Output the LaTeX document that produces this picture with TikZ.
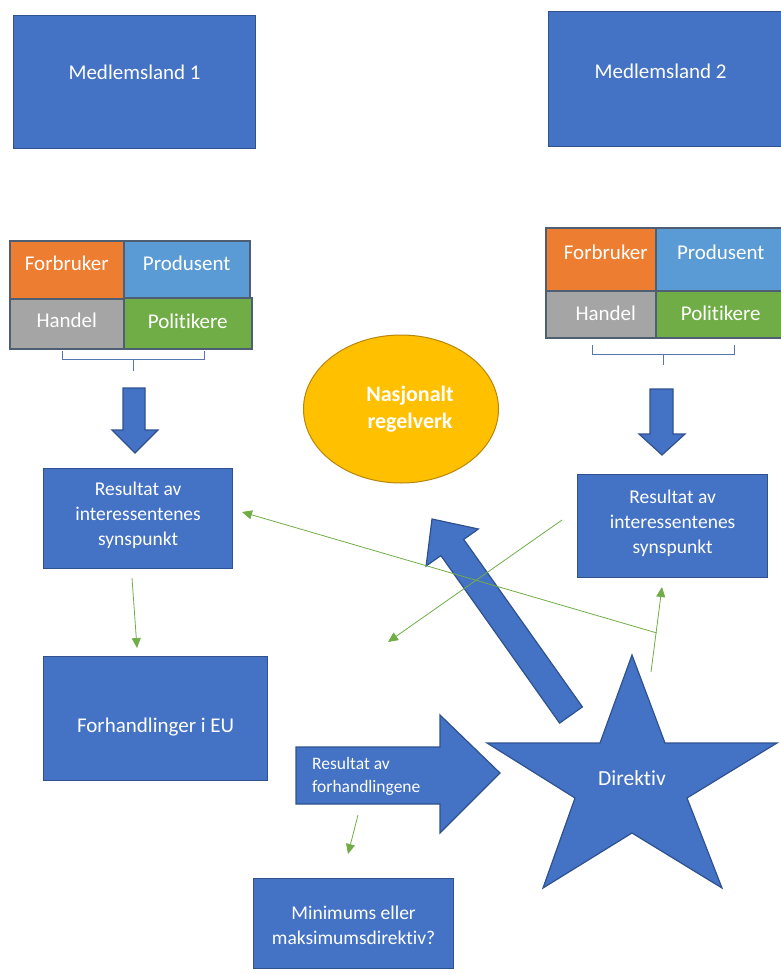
\documentclass[tikz,border=0pt]{standalone}
\usepackage{fontspec}
\setmainfont{Carlito}[Ligatures={NoCommon}]
\usetikzlibrary{shapes.geometric,arrows.meta,calc}
\definecolor{blu}{HTML}{4472C4}
\definecolor{bluedge}{HTML}{2F528F}
\definecolor{org}{HTML}{ED7D31}
\definecolor{lblu}{HTML}{5B9BD5}
\definecolor{gry}{HTML}{A5A5A5}
\definecolor{grn}{HTML}{70AD47}
\definecolor{gold}{HTML}{FFC000}
\definecolor{goldedge}{HTML}{B8860B}
\definecolor{celledge}{HTML}{4F5F73}
\begin{document}
\begin{tikzpicture}[x=1pt,y=-1pt,
  box/.style={draw=bluedge, line width=1.2pt, fill=blu, inner sep=0pt, anchor=north west},
  lab/.style={text=white, align=center, inner sep=0pt},
  big/.style={font=\fontsize{21}{25}\selectfont},
  mid/.style={font=\fontsize{19.5}{25}\selectfont},
  cell/.style={draw=celledge, line width=1.5pt, inner sep=0pt, anchor=north west},
  shapeblue/.style={draw=bluedge, line width=1.2pt, fill=blu},
  brace/.style={draw=blu!70!gray, line width=0.8pt},
  garrow/.style={draw=grn, line width=0.8pt, -{Triangle[length=10pt,width=9pt]}}
]
\useasboundingbox (0,0) rectangle (781,974);

% Member states
\node[box, minimum width=242pt, minimum height=133pt,
  label={[lab,big,yshift=10pt]center:Medlemsland 1}] (m1) at (13,15) {};
\node[box, minimum width=240pt, minimum height=135pt,
  label={[lab,big,xshift=-8pt,yshift=8pt]center:Medlemsland 2}] (m2) at (548,11) {};

% Left stakeholder grid
\node[cell, fill=org, minimum width=114pt, minimum height=58pt,
  label={[lab,big,yshift=6pt]center:Forbruker}] (lf) at (9,240) {};
\node[cell, fill=lblu, minimum width=126pt, minimum height=58pt,
  label={[lab,big,yshift=6pt]center:Produsent}] (lp) at (123,240) {};
\node[cell, fill=gry, minimum width=114pt, minimum height=50pt,
  label={[lab,big,yshift=3pt]center:Handel}] (lh) at (9,298) {};
\node[cell, fill=grn, minimum width=128pt, minimum height=51pt,
  label={[lab,big,yshift=2pt]center:Politikere}] (lpo) at (123,297) {};

% Right stakeholder grid
\node[cell, fill=org, minimum width=110pt, minimum height=63pt,
  label={[lab,big,xshift=5pt,yshift=7pt]center:Forbruker}] (rf) at (545,227) {};
\node[cell, fill=lblu, minimum width=132pt, minimum height=63pt,
  label={[lab,big,xshift=-1pt,yshift=7pt]center:Produsent}] (rp) at (655,227) {};
\node[cell, fill=gry, minimum width=110pt, minimum height=47pt,
  label={[lab,big,xshift=5pt,yshift=1pt]center:Handel}] (rh) at (545,290) {};
\node[cell, fill=grn, minimum width=132pt, minimum height=47pt,
  label={[lab,big,xshift=-1pt,yshift=1pt]center:Politikere}] (rpo) at (655,290) {};

% Braces
\draw[brace] (62,351) -- (62,359) -- (204,359) -- (204,351);
\draw[brace] (133,359) -- (133,371);
\draw[brace] (592,345) -- (592,354) -- (734,354) -- (734,345);
\draw[brace] (663,354) -- (663,365);

% Down block arrows
\draw[shapeblue] (123,388) -- (145,388) -- (145,430) -- (158,430) -- (135,453)
  -- (112,430) -- (123,430) -- cycle;
\draw[shapeblue] (650,389) -- (673,389) -- (673,434) -- (685,434) -- (662,455)
  -- (639,434) -- (650,434) -- cycle;

% National regulation
\node[ellipse, draw=goldedge, line width=1pt, fill=gold, minimum width=195pt,
  minimum height=148pt, inner sep=0pt, text=white, align=center,
  font=\bfseries\fontsize{22}{27}\selectfont] (nas) at (401,409)
  {\hspace*{18pt}Nasjonalt\\\hspace*{18pt}regelverk};

% Result boxes
\node[box, minimum width=189pt, minimum height=100pt,
  label={[lab,mid,yshift=3pt]center:Resultat av\\interessentenes\\synspunkt}] (resL) at (43,468) {};
\node[box, minimum width=190pt, minimum height=103pt,
  label={[lab,mid,yshift=2.5pt]center:Resultat av\\interessentenes\\synspunkt}] (resR) at (577,474) {};

% Negotiations
\node[box, minimum width=224pt, minimum height=124pt,
  label={[lab,big,yshift=-8pt]center:Forhandlinger i EU}] (forh) at (43,656) {};

% Big diagonal arrow
\draw[shapeblue] (582.4,706.9) -- (463.7,539.4) -- (478.4,529.0) -- (432,519)
  -- (426.1,566.0) -- (440.9,555.6) -- (559.6,723.1) -- cycle;

% Result of negotiations arrow
\draw[shapeblue] (296,747) -- (440,747) -- (440,715) -- (500,773) -- (440,833)
  -- (440,804) -- (296,804) -- cycle;
\node[text=white, align=left, inner sep=0pt, anchor=west,
  font=\fontsize{17.5}{23}\selectfont] (resF) at (312,776) {Resultat av\\forhandlingene};

% Star
\draw[shapeblue] (632,655) -- (665,743) -- (777,743) -- (687,798) -- (722,888)
  -- (632,833) -- (543,888) -- (575,798) -- (487,743) -- (600,743) -- cycle;
\node[text=white, inner sep=0pt, font=\fontsize{21.5}{25}\selectfont] (dir) at (632,778) {Direktiv};

% Minimum / maximum
\node[box, minimum width=200pt, minimum height=90pt,
  label={[lab,mid,yshift=-2pt]center:Minimums eller\\maksimumsdirektiv?}] (mm) at (253,878) {};

% Green connectors
\coordinate (g1a) at (132,578);
\coordinate (g1b) at (137,648);
\draw[garrow] (g1a) -- (g1b);
\coordinate (gs) at (651,672);
\coordinate (gt) at (662,587);
\coordinate (gj) at (657,633);
\coordinate (gl) at (242,512);
\draw[garrow] (gs) -- (gt);
\draw[garrow] (gj) -- (gl);
\coordinate (g4a) at (562,520);
\coordinate (g4b) at (388,642);
\draw[garrow] (g4a) -- (g4b);
\coordinate (g5a) at (358,815);
\coordinate (g5b) at (348,854);
\draw[garrow] (g5a) -- (g5b);
\end{tikzpicture}
\end{document}
